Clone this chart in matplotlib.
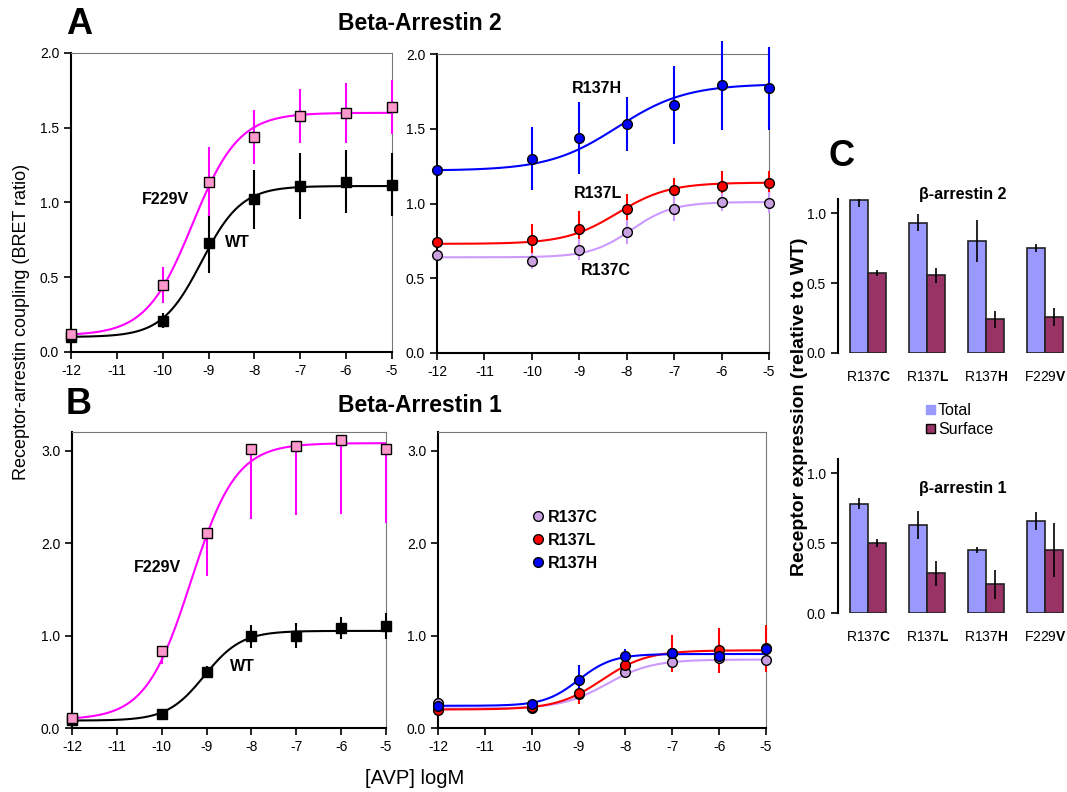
import numpy as np
import matplotlib
matplotlib.use('Agg')
import matplotlib.pyplot as plt
from matplotlib.patches import Patch
from matplotlib.lines import Line2D
from matplotlib.ticker import FormatStrFormatter

plt.rcParams['font.family'] = ['Liberation Sans', 'DejaVu Sans']
plt.rcParams['axes.unicode_minus'] = False
plt.rcParams['mathtext.fontset'] = 'custom'
plt.rcParams['mathtext.rm'] = 'Liberation Sans'
plt.rcParams['mathtext.bf'] = 'Liberation Sans:bold'

log_avp = [-12, -10, -9, -8, -7, -6, -5]

# panel A, beta-arrestin 2
a_wt = [0.10, 0.21, 0.73, 1.02, 1.11, 1.14, 1.12]
a_wt_err = [0.0, 0.05, 0.20, 0.20, 0.22, 0.21, 0.21]
a_f229v = [0.12, 0.45, 1.14, 1.44, 1.58, 1.60, 1.64]
a_f229v_err = [0.0, 0.12, 0.23, 0.18, 0.18, 0.20, 0.18]
a_r137h = [1.225, 1.30, 1.44, 1.53, 1.66, 1.79, 1.77]
a_r137h_err = [0.0, 0.21, 0.24, 0.18, 0.26, 0.30, 0.28]
a_r137l = [0.74, 0.755, 0.83, 0.965, 1.09, 1.12, 1.14]
a_r137l_err = [0.03, 0.11, 0.12, 0.10, 0.08, 0.10, 0.08]
a_r137c = [0.655, 0.615, 0.69, 0.81, 0.965, 1.01, 1.005]
a_r137c_err = [0.0, 0.055, 0.07, 0.08, 0.085, 0.06, 0.07]

# panel B, beta-arrestin 1
b_wt = [0.09, 0.15, 0.61, 0.99, 1.00, 1.08, 1.10]
b_wt_err = [0.0, 0.02, 0.06, 0.12, 0.13, 0.12, 0.14]
b_f229v = [0.11, 0.83, 2.11, 3.02, 3.05, 3.11, 3.02]
b_f229v_err_low = [0.0, 0.14, 0.47, 0.76, 0.75, 0.80, 0.80]
b_r137c = [0.27, 0.22, 0.37, 0.61, 0.71, 0.76, 0.73]
b_r137c_err = [0.0, 0.02, 0.05, 0.05, 0.05, 0.05, 0.05]
b_r137l = [0.20, 0.23, 0.38, 0.68, 0.81, 0.84, 0.86]
b_r137l_err = [0.0, 0.02, 0.12, 0.12, 0.20, 0.24, 0.25]
b_r137h = [0.235, 0.26, 0.52, 0.78, 0.81, 0.78, 0.85]
b_r137h_err = [0.0, 0.02, 0.16, 0.07, 0.06, 0.04, 0.04]

# fitted dose-response curves: bottom, top, logEC50, hill slope
fit_a_wt = [0.10, 1.11, -9.15, 1.0]
fit_a_f229v = [0.11, 1.60, -9.35, 0.86]
fit_a_r137h = [1.22, 1.80, -8.2, 0.6]
fit_a_r137l = [0.73, 1.14, -8.2, 0.8]
fit_a_r137c = [0.64, 1.01, -7.9, 1.0]
fit_b_wt = [0.08, 1.05, -9.05, 1.05]
fit_b_f229v = [0.09, 3.08, -9.35, 0.86]
fit_b_r137h = [0.24, 0.80, -9.0, 1.2]
fit_b_r137l = [0.20, 0.84, -8.5, 0.9]
fit_b_r137c = [0.21, 0.74, -8.4, 0.9]

# panel C, receptor expression
mutants = [r'R137$\mathbf{C}$', r'R137$\mathbf{L}$', r'R137$\mathbf{H}$', r'F229$\mathbf{V}$']
c2_total = [1.09, 0.93, 0.80, 0.75]
c2_total_err = [0.05, 0.06, 0.15, 0.03]
c2_surface = [0.57, 0.555, 0.24, 0.26]
c2_surface_err = [0.02, 0.055, 0.06, 0.065]
c1_total = [0.78, 0.63, 0.45, 0.66]
c1_total_err = [0.04, 0.10, 0.02, 0.065]
c1_surface = [0.50, 0.285, 0.205, 0.45]
c1_surface_err = [0.03, 0.09, 0.105, 0.19]

MAGENTA, PINK = '#FF00FF', '#FF99CC'
BLUE, RED = '#0000FF', '#FF0000'
LAV_LINE, LAV_FILL = '#CC99FF', '#C9A0E0'
TOTAL, SURFACE = '#9999FF', '#993366'

xs = np.linspace(-12, -5, 300)


def curve(p):
    bottom, top, ec50, hill = p
    return bottom + (top - bottom) / (1 + 10 ** ((ec50 - xs) * hill))


def series(ax, y, err, fit, line, fill, marker, ms=7):
    ax.plot(xs, curve(fit), color=line, lw=1.5, zorder=2)
    ax.errorbar(log_avp, y, yerr=err, fmt='none', ecolor=line, elinewidth=1.5,
                capsize=0, zorder=3, clip_on=False)
    ax.plot(log_avp, y, ls='none', marker=marker, ms=ms, mfc=fill, mec='black',
            mew=1.0, zorder=4, clip_on=False)


def style_dose(ax, ymax, ticks):
    ax.set_xlim(-12, -5)
    ax.set_ylim(0, ymax)
    ax.set_xticks(range(-12, -4))
    ax.set_yticks(ticks)
    ax.yaxis.set_major_formatter(FormatStrFormatter('%.1f'))
    ax.tick_params(direction='out', length=5, width=1.2, labelsize=10, colors='black')
    for s in ['left', 'bottom']:
        ax.spines[s].set_linewidth(1.5)
    for s in ['top', 'right']:
        ax.spines[s].set_linewidth(0.8)
        ax.spines[s].set_color('#777777')


def label(ax, x, y, s):
    ax.text(x, y, s, fontsize=11.5, fontweight='bold', ha='center', va='center')


fig = plt.figure(figsize=(10.67, 7.92), dpi=100)

axA1 = fig.add_axes([0.0665, 0.5556, 0.3008, 0.3775])
axA2 = fig.add_axes([0.4096, 0.5543, 0.3111, 0.3775])
axB1 = fig.add_axes([0.0675, 0.0808, 0.2943, 0.3737])
axB2 = fig.add_axes([0.4105, 0.0808, 0.3074, 0.3737])

series(axA1, a_wt, a_wt_err, fit_a_wt, 'black', 'black', 's', 6.5)
series(axA1, a_f229v, a_f229v_err, fit_a_f229v, MAGENTA, PINK, 's')
style_dose(axA1, 2.0, [0, 0.5, 1.0, 1.5, 2.0])
label(axA1, -9.93, 1.02, 'F229V')
label(axA1, -8.38, 0.73, 'WT')

series(axA2, a_r137h, a_r137h_err, fit_a_r137h, BLUE, BLUE, 'o', 7)
series(axA2, a_r137l, a_r137l_err, fit_a_r137l, RED, RED, 'o', 7)
series(axA2, a_r137c, a_r137c_err, fit_a_r137c, LAV_LINE, LAV_FILL, 'o', 7)
style_dose(axA2, 2.0, [0, 0.5, 1.0, 1.5, 2.0])
label(axA2, -8.63, 1.77, 'R137H')
label(axA2, -8.6, 1.07, 'R137L')
label(axA2, -8.44, 0.555, 'R137C')

series(axB1, b_wt, b_wt_err, fit_b_wt, 'black', 'black', 's', 6.5)
series(axB1, b_f229v, [b_f229v_err_low, [0] * 7], fit_b_f229v, MAGENTA, PINK, 's')
style_dose(axB1, 3.2, [0, 1, 2, 3])
label(axB1, -10.1, 1.735, 'F229V')
label(axB1, -8.21, 0.66, 'WT')

series(axB2, b_r137c, b_r137c_err, fit_b_r137c, LAV_LINE, LAV_FILL, 'o', 7)
series(axB2, b_r137l, b_r137l_err, fit_b_r137l, RED, RED, 'o', 7)
series(axB2, b_r137h, b_r137h_err, fit_b_r137h, BLUE, BLUE, 'o', 7)
style_dose(axB2, 3.2, [0, 1, 2, 3])
handles = [Line2D([], [], ls='none', marker='o', ms=7, mfc=c, mec='black')
           for c in [LAV_FILL, RED, BLUE]]
axB2.legend(handles, ['R137C', 'R137L', 'R137H'], loc='center left',
            bbox_to_anchor=(0.256, 0.635), frameon=False, handletextpad=0.05,
            labelspacing=0.5, borderaxespad=0, handlelength=1.2,
            prop={'weight': 'bold', 'size': 11.5})

fig.text(79 / 1067, 1 - 25 / 792, 'A', fontsize=26, fontweight='bold', ha='center', va='center')
fig.text(79 / 1067, 1 - 405 / 792, 'B', fontsize=26, fontweight='bold', ha='center', va='center')
fig.text(842 / 1067, 1 - 157 / 792, 'C', fontsize=26, fontweight='bold', ha='center', va='center')
fig.text(420 / 1067, 1 - 24 / 792, 'Beta-Arrestin 2', fontsize=16.5, fontweight='bold', ha='center', va='center')
fig.text(420 / 1067, 1 - 405 / 792, 'Beta-Arrestin 1', fontsize=16.5, fontweight='bold', ha='center', va='center')
fig.text(22 / 1067, 1 - 322 / 792, 'Receptor-arrestin coupling (BRET ratio)', fontsize=13,
         rotation=90, ha='center', va='center')
fig.text(415 / 1067, 1 - 778 / 792, '[AVP] logM', fontsize=14.5, ha='center', va='center')

# panel C
axC1 = fig.add_axes([0.7854, 0.5543, 0.2146, 0.1944])
axC2 = fig.add_axes([0.7854, 0.2260, 0.2146, 0.1944])
pos = np.arange(len(mutants))
w = 0.3
for ax, tot, tot_e, sur, sur_e in [(axC1, c2_total, c2_total_err, c2_surface, c2_surface_err),
                                    (axC2, c1_total, c1_total_err, c1_surface, c1_surface_err)]:
    ax.bar(pos - w / 2, tot, w, color=TOTAL, edgecolor='#222222', lw=1.2,
           yerr=tot_e, error_kw=dict(elinewidth=1.2, ecolor='black', capsize=0))
    ax.bar(pos + w / 2, sur, w, color=SURFACE, edgecolor='#222222', lw=1.2,
           yerr=sur_e, error_kw=dict(elinewidth=1.2, ecolor='black', capsize=0))
    ax.set_xlim(-0.51, 3.37)
    ax.set_ylim(0, 1.1)
    ax.set_yticks([0, 0.5, 1.0])
    ax.yaxis.set_major_formatter(FormatStrFormatter('%.1f'))
    ax.set_xticks(pos)
    ax.set_xticklabels(mutants)
    ax.tick_params(axis='x', length=0, labelsize=10, pad=12)
    ax.tick_params(axis='y', direction='out', length=5, width=1.2, labelsize=10)
    for s in ['top', 'right', 'bottom']:
        ax.spines[s].set_visible(False)
    ax.spines['left'].set_linewidth(1.5)

axC1.text(0.546, 1.03, 'β-arrestin 2', transform=axC1.transAxes, fontsize=11.5,
          fontweight='bold', ha='center', va='center')
axC2.text(0.546, 0.81, 'β-arrestin 1', transform=axC2.transAxes, fontsize=11.5,
          fontweight='bold', ha='center', va='center')
fig.text(800 / 1067, 1 - 407 / 792, 'Receptor expression (relative to WT)', fontsize=14,
         fontweight='bold', rotation=90, ha='center', va='center')
fig.legend([Patch(facecolor=TOTAL, edgecolor=TOTAL), Patch(facecolor=SURFACE, edgecolor='black')],
           ['Total', 'Surface'], loc='upper left', bbox_to_anchor=(926 / 1067, 1 - 403 / 792),
           frameon=False, fontsize=11.5, handlelength=0.55, handleheight=0.55,
           handletextpad=0.2, labelspacing=0.25, borderaxespad=0, borderpad=0)

fig.savefig('out.png', dpi=100)
